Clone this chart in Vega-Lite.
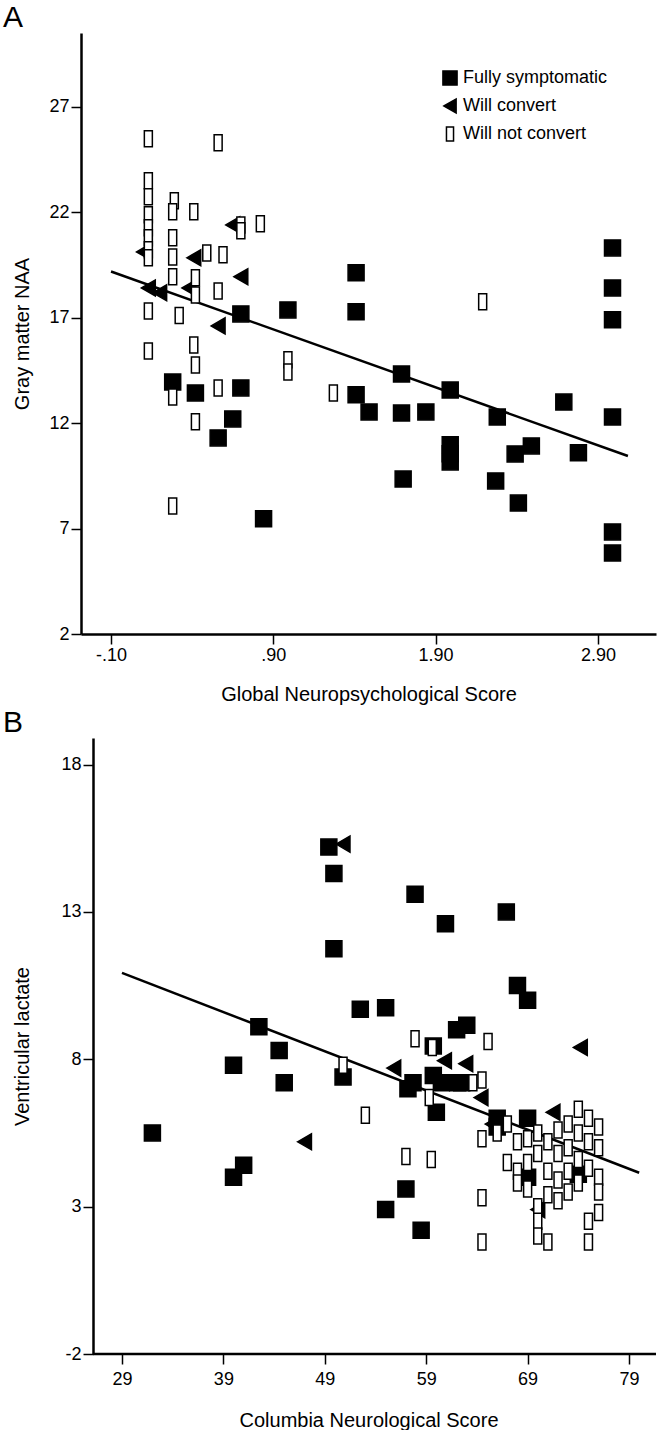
{
  "$schema": "https://vega.github.io/schema/vega-lite/v6.json",
  "padding": {"left": 2, "top": 3, "right": 0, "bottom": 0},
  "spacing": 4,
  "config": {
    "view": {"stroke": null},
    "font": "Liberation Sans",
    "axis": {
      "grid": false, "domainColor": "black", "domainWidth": 2.5, "tickColor": "black", "tickWidth": 1.5, "tickSize": 10,
      "labelColor": "black", "labelFont": "Liberation Sans", "labelFontSize": 18, "titleFont": "Liberation Sans",
      "titleFontSize": 20, "titleFontWeight": "normal", "titleColor": "black"
    },
    "title": {"font": "Liberation Sans", "fontSize": 30, "fontWeight": "normal", "color": "black", "anchor": "start", "frame": "bounds"}
  },
  "datasets": {
    "pa": [
      {"x": 0.28, "y": 13.95, "group": "Fully symptomatic"},
      {"x": 0.42, "y": 13.43, "group": "Fully symptomatic"},
      {"x": 0.70, "y": 13.67, "group": "Fully symptomatic"},
      {"x": 0.65, "y": 12.2, "group": "Fully symptomatic"},
      {"x": 0.56, "y": 11.3, "group": "Fully symptomatic"},
      {"x": 0.84, "y": 7.46, "group": "Fully symptomatic"},
      {"x": 0.70, "y": 17.18, "group": "Fully symptomatic"},
      {"x": 0.99, "y": 17.37, "group": "Fully symptomatic"},
      {"x": 2.99, "y": 20.31, "group": "Fully symptomatic"},
      {"x": 2.99, "y": 18.41, "group": "Fully symptomatic"},
      {"x": 2.99, "y": 16.9, "group": "Fully symptomatic"},
      {"x": 1.41, "y": 19.13, "group": "Fully symptomatic"},
      {"x": 1.41, "y": 17.28, "group": "Fully symptomatic"},
      {"x": 1.69, "y": 14.33, "group": "Fully symptomatic"},
      {"x": 1.99, "y": 13.57, "group": "Fully symptomatic"},
      {"x": 1.41, "y": 13.34, "group": "Fully symptomatic"},
      {"x": 1.49, "y": 12.53, "group": "Fully symptomatic"},
      {"x": 1.69, "y": 12.48, "group": "Fully symptomatic"},
      {"x": 1.84, "y": 12.53, "group": "Fully symptomatic"},
      {"x": 2.28, "y": 12.29, "group": "Fully symptomatic"},
      {"x": 2.69, "y": 13.0, "group": "Fully symptomatic"},
      {"x": 2.99, "y": 12.29, "group": "Fully symptomatic"},
      {"x": 1.99, "y": 10.97, "group": "Fully symptomatic"},
      {"x": 1.99, "y": 10.55, "group": "Fully symptomatic"},
      {"x": 1.99, "y": 10.16, "group": "Fully symptomatic"},
      {"x": 2.49, "y": 10.92, "group": "Fully symptomatic"},
      {"x": 2.39, "y": 10.54, "group": "Fully symptomatic"},
      {"x": 2.78, "y": 10.59, "group": "Fully symptomatic"},
      {"x": 1.70, "y": 9.35, "group": "Fully symptomatic"},
      {"x": 2.27, "y": 9.26, "group": "Fully symptomatic"},
      {"x": 2.41, "y": 8.21, "group": "Fully symptomatic"},
      {"x": 2.99, "y": 6.84, "group": "Fully symptomatic"},
      {"x": 2.99, "y": 5.84, "group": "Fully symptomatic"},
      {"x": 0.65, "y": 21.4, "group": "Will convert"},
      {"x": 0.41, "y": 19.84, "group": "Will convert"},
      {"x": 0.13, "y": 18.41, "group": "Will convert"},
      {"x": 0.20, "y": 18.18, "group": "Will convert"},
      {"x": 0.70, "y": 18.94, "group": "Will convert"},
      {"x": 0.56, "y": 16.61, "group": "Will convert"},
      {"x": 0.10, "y": 20.12, "group": "Will convert"},
      {"x": 0.38, "y": 18.41, "group": "Will convert"},
      {"x": 0.13, "y": 25.48, "group": "Will not convert"},
      {"x": 0.56, "y": 25.29, "group": "Will not convert"},
      {"x": 0.13, "y": 23.49, "group": "Will not convert"},
      {"x": 0.13, "y": 22.73, "group": "Will not convert"},
      {"x": 0.29, "y": 22.54, "group": "Will not convert"},
      {"x": 0.13, "y": 21.88, "group": "Will not convert"},
      {"x": 0.28, "y": 22.02, "group": "Will not convert"},
      {"x": 0.41, "y": 22.02, "group": "Will not convert"},
      {"x": 0.13, "y": 21.26, "group": "Will not convert"},
      {"x": 0.13, "y": 20.79, "group": "Will not convert"},
      {"x": 0.13, "y": 20.22, "group": "Will not convert"},
      {"x": 0.13, "y": 19.84, "group": "Will not convert"},
      {"x": 0.70, "y": 21.4, "group": "Will not convert"},
      {"x": 0.70, "y": 21.12, "group": "Will not convert"},
      {"x": 0.82, "y": 21.45, "group": "Will not convert"},
      {"x": 0.28, "y": 20.79, "group": "Will not convert"},
      {"x": 0.49, "y": 20.07, "group": "Will not convert"},
      {"x": 0.59, "y": 19.98, "group": "Will not convert"},
      {"x": 0.28, "y": 19.88, "group": "Will not convert"},
      {"x": 0.28, "y": 18.94, "group": "Will not convert"},
      {"x": 0.42, "y": 18.89, "group": "Will not convert"},
      {"x": 0.42, "y": 18.08, "group": "Will not convert"},
      {"x": 0.56, "y": 18.27, "group": "Will not convert"},
      {"x": 0.13, "y": 17.32, "group": "Will not convert"},
      {"x": 0.32, "y": 17.1, "group": "Will not convert"},
      {"x": 0.13, "y": 15.42, "group": "Will not convert"},
      {"x": 0.41, "y": 15.71, "group": "Will not convert"},
      {"x": 0.42, "y": 14.76, "group": "Will not convert"},
      {"x": 0.28, "y": 13.24, "group": "Will not convert"},
      {"x": 0.56, "y": 13.67, "group": "Will not convert"},
      {"x": 0.42, "y": 12.06, "group": "Will not convert"},
      {"x": 0.28, "y": 8.07, "group": "Will not convert"},
      {"x": 0.99, "y": 15.0, "group": "Will not convert"},
      {"x": 0.99, "y": 14.43, "group": "Will not convert"},
      {"x": 1.27, "y": 13.43, "group": "Will not convert"},
      {"x": 2.19, "y": 17.75, "group": "Will not convert"}
    ],
    "la": [{"x": -0.1, "y": 19.19}, {"x": 3.085, "y": 10.44}],
    "pb": [
      {"x": 32.0, "y": 5.5, "group": "Fully symptomatic"},
      {"x": 40.0, "y": 4.0, "group": "Fully symptomatic"},
      {"x": 41.0, "y": 4.4, "group": "Fully symptomatic"},
      {"x": 40.0, "y": 7.8, "group": "Fully symptomatic"},
      {"x": 42.5, "y": 9.1, "group": "Fully symptomatic"},
      {"x": 44.5, "y": 8.3, "group": "Fully symptomatic"},
      {"x": 45.0, "y": 7.2, "group": "Fully symptomatic"},
      {"x": 49.4, "y": 15.2, "group": "Fully symptomatic"},
      {"x": 49.9, "y": 14.3, "group": "Fully symptomatic"},
      {"x": 49.9, "y": 11.75, "group": "Fully symptomatic"},
      {"x": 50.8, "y": 7.4, "group": "Fully symptomatic"},
      {"x": 52.5, "y": 9.7, "group": "Fully symptomatic"},
      {"x": 55.0, "y": 9.75, "group": "Fully symptomatic"},
      {"x": 55.0, "y": 2.9, "group": "Fully symptomatic"},
      {"x": 57.0, "y": 3.6, "group": "Fully symptomatic"},
      {"x": 58.5, "y": 2.2, "group": "Fully symptomatic"},
      {"x": 57.9, "y": 13.6, "group": "Fully symptomatic"},
      {"x": 60.9, "y": 12.6, "group": "Fully symptomatic"},
      {"x": 66.9, "y": 13.0, "group": "Fully symptomatic"},
      {"x": 68.0, "y": 10.5, "group": "Fully symptomatic"},
      {"x": 69.0, "y": 10.0, "group": "Fully symptomatic"},
      {"x": 57.7, "y": 7.2, "group": "Fully symptomatic"},
      {"x": 57.2, "y": 7.0, "group": "Fully symptomatic"},
      {"x": 59.7, "y": 7.45, "group": "Fully symptomatic"},
      {"x": 60.5, "y": 7.2, "group": "Fully symptomatic"},
      {"x": 62.5, "y": 7.2, "group": "Fully symptomatic"},
      {"x": 59.7, "y": 8.45, "group": "Fully symptomatic"},
      {"x": 62.0, "y": 9.0, "group": "Fully symptomatic"},
      {"x": 63.0, "y": 9.15, "group": "Fully symptomatic"},
      {"x": 62.1, "y": 7.2, "group": "Fully symptomatic"},
      {"x": 60.0, "y": 6.2, "group": "Fully symptomatic"},
      {"x": 66.0, "y": 6.0, "group": "Fully symptomatic"},
      {"x": 69.0, "y": 6.0, "group": "Fully symptomatic"},
      {"x": 69.0, "y": 4.0, "group": "Fully symptomatic"},
      {"x": 74.0, "y": 4.1, "group": "Fully symptomatic"},
      {"x": 66.0, "y": 5.7, "group": "Fully symptomatic"},
      {"x": 50.8, "y": 15.3, "group": "Will convert"},
      {"x": 47.0, "y": 5.2, "group": "Will convert"},
      {"x": 55.8, "y": 7.7, "group": "Will convert"},
      {"x": 60.8, "y": 7.95, "group": "Will convert"},
      {"x": 62.9, "y": 7.85, "group": "Will convert"},
      {"x": 64.4, "y": 6.7, "group": "Will convert"},
      {"x": 65.5, "y": 5.8, "group": "Will convert"},
      {"x": 74.2, "y": 8.4, "group": "Will convert"},
      {"x": 71.5, "y": 6.2, "group": "Will convert"},
      {"x": 70.0, "y": 2.9, "group": "Will convert"},
      {"x": 68.5, "y": 4.1, "group": "Will convert"},
      {"x": 50.8, "y": 7.8, "group": "Will not convert"},
      {"x": 53.0, "y": 6.1, "group": "Will not convert"},
      {"x": 57.0, "y": 4.7, "group": "Will not convert"},
      {"x": 59.5, "y": 4.6, "group": "Will not convert"},
      {"x": 57.9, "y": 8.7, "group": "Will not convert"},
      {"x": 59.6, "y": 8.4, "group": "Will not convert"},
      {"x": 65.1, "y": 8.6, "group": "Will not convert"},
      {"x": 59.3, "y": 6.7, "group": "Will not convert"},
      {"x": 63.6, "y": 7.2, "group": "Will not convert"},
      {"x": 64.5, "y": 7.3, "group": "Will not convert"},
      {"x": 64.5, "y": 5.3, "group": "Will not convert"},
      {"x": 64.5, "y": 3.3, "group": "Will not convert"},
      {"x": 64.5, "y": 1.8, "group": "Will not convert"},
      {"x": 66.0, "y": 5.5, "group": "Will not convert"},
      {"x": 67.0, "y": 5.8, "group": "Will not convert"},
      {"x": 67.0, "y": 4.5, "group": "Will not convert"},
      {"x": 68.0, "y": 4.2, "group": "Will not convert"},
      {"x": 68.0, "y": 5.2, "group": "Will not convert"},
      {"x": 68.0, "y": 3.8, "group": "Will not convert"},
      {"x": 69.0, "y": 5.3, "group": "Will not convert"},
      {"x": 69.0, "y": 4.5, "group": "Will not convert"},
      {"x": 69.0, "y": 3.6, "group": "Will not convert"},
      {"x": 70.0, "y": 5.5, "group": "Will not convert"},
      {"x": 70.0, "y": 4.8, "group": "Will not convert"},
      {"x": 70.0, "y": 3.0, "group": "Will not convert"},
      {"x": 70.0, "y": 2.5, "group": "Will not convert"},
      {"x": 70.0, "y": 2.0, "group": "Will not convert"},
      {"x": 71.0, "y": 5.2, "group": "Will not convert"},
      {"x": 71.0, "y": 4.2, "group": "Will not convert"},
      {"x": 71.0, "y": 3.4, "group": "Will not convert"},
      {"x": 71.0, "y": 1.8, "group": "Will not convert"},
      {"x": 72.0, "y": 5.6, "group": "Will not convert"},
      {"x": 72.0, "y": 4.8, "group": "Will not convert"},
      {"x": 72.0, "y": 3.9, "group": "Will not convert"},
      {"x": 72.0, "y": 3.2, "group": "Will not convert"},
      {"x": 73.0, "y": 5.8, "group": "Will not convert"},
      {"x": 73.0, "y": 5.0, "group": "Will not convert"},
      {"x": 73.0, "y": 4.2, "group": "Will not convert"},
      {"x": 73.0, "y": 3.5, "group": "Will not convert"},
      {"x": 74.0, "y": 6.3, "group": "Will not convert"},
      {"x": 74.0, "y": 5.5, "group": "Will not convert"},
      {"x": 74.0, "y": 4.6, "group": "Will not convert"},
      {"x": 74.0, "y": 3.8, "group": "Will not convert"},
      {"x": 75.0, "y": 6.0, "group": "Will not convert"},
      {"x": 75.0, "y": 5.2, "group": "Will not convert"},
      {"x": 75.0, "y": 4.3, "group": "Will not convert"},
      {"x": 75.0, "y": 2.5, "group": "Will not convert"},
      {"x": 75.0, "y": 1.8, "group": "Will not convert"},
      {"x": 76.0, "y": 5.7, "group": "Will not convert"},
      {"x": 76.0, "y": 5.0, "group": "Will not convert"},
      {"x": 76.0, "y": 4.0, "group": "Will not convert"},
      {"x": 76.0, "y": 3.5, "group": "Will not convert"},
      {"x": 76.0, "y": 2.8, "group": "Will not convert"}
    ],
    "lb": [{"x": 29, "y": 10.93}, {"x": 80, "y": 4.15}],
    "axb": [{"x": 26.14, "x2": 81.66, "y": -2}]
  },
  "vconcat": [
    {
      "title": {"text": "A", "dx": -10, "offset": 0},
      "width": 575,
      "height": 601,
      "layer": [
        {
          "data": {"name": "la"},
          "mark": {"type": "line", "color": "black", "strokeWidth": 2.5},
          "encoding": {
            "x": {"field": "x", "type": "quantitative"},
            "y": {"field": "y", "type": "quantitative"}
          }
        },
        {
          "data": {"name": "pa"},
          "mark": {"type": "point", "filled": true, "strokeWidth": 1.5, "opacity": 1, "size": 256},
          "encoding": {
            "x": {"field": "x", "type": "quantitative", "title": "Global Neuropsychological Score",
              "scale": {"domain": [-0.285, 3.258], "nice": false, "zero": false},
              "axis": {"values": [-0.1, 0.9, 1.9, 2.9], "labelExpr": "datum.value < 0 ? '-.10' : replace(format(datum.value, '.2f'), '0.', '.')", "labelPadding": 2, "titlePadding": 20}},
            "y": {"field": "y", "type": "quantitative", "title": "Gray matter NAA",
              "scale": {"domain": [2, 30.5], "nice": false, "zero": false},
              "axis": {"values": [2, 7, 12, 17, 22, 27], "labelPadding": 2, "titlePadding": 16}},
            "shape": {"field": "group", "type": "nominal", "title": null,
              "scale": {"domain": ["Fully symptomatic", "Will convert", "Will not convert"], "range": ["square", "triangle-left", "M-0.5,-1H0.5V1H-0.5Z"]},
              "legend": {"orient": "none", "legendX": 360, "legendY": 36, "labelFontSize": 18, "labelFont": "Liberation Sans", "labelColor": "black", "symbolSize": 200, "symbolStrokeWidth": 1.5, "rowPadding": 6, "padding": 0, "labelOffset": 4}},
            "fill": {"field": "group", "type": "nominal", "title": null,
              "scale": {"domain": ["Fully symptomatic", "Will convert", "Will not convert"], "range": ["black", "black", "white"]}},
            "stroke": {"field": "group", "type": "nominal", "title": null,
              "scale": {"domain": ["Fully symptomatic", "Will convert", "Will not convert"], "range": ["black", "black", "black"]}}
          }
        }
      ]
    },
    {
      "title": {"text": "B", "dx": -10, "offset": 0},
      "width": 575,
      "height": 616,
      "layer": [
        {
          "data": {"name": "axb"},
          "mark": {"type": "rule", "color": "black", "strokeWidth": 2.5},
          "encoding": {
            "x": {"field": "x", "type": "quantitative"},
            "x2": {"field": "x2"},
            "y": {"field": "y", "type": "quantitative"}
          }
        },
        {
          "data": {"name": "lb"},
          "mark": {"type": "line", "color": "black", "strokeWidth": 2.5},
          "encoding": {
            "x": {"field": "x", "type": "quantitative"},
            "y": {"field": "y", "type": "quantitative"}
          }
        },
        {
          "data": {"name": "pb"},
          "mark": {"type": "point", "filled": true, "strokeWidth": 1.5, "opacity": 1, "size": 256},
          "encoding": {
            "x": {"field": "x", "type": "quantitative", "title": "Columbia Neurological Score",
              "scale": {"domain": [24.96, 81.66], "nice": false, "zero": false},
              "axis": {"values": [29, 39, 49, 59, 69, 79], "domain": false, "labelPadding": 6, "titlePadding": 22}},
            "y": {"field": "y", "type": "quantitative", "title": "Ventricular lactate",
              "scale": {"domain": [-2, 18.9], "nice": false, "zero": false},
              "axis": {"values": [-2, 3, 8, 13, 18], "offset": -12, "labelExpr": "replace(datum.label, '\u2212', '-')", "labelPadding": 2, "titlePadding": 28}},
            "shape": {"field": "group", "type": "nominal", "legend": null,
              "scale": {"domain": ["Fully symptomatic", "Will convert", "Will not convert"], "range": ["square", "triangle-left", "M-0.5,-1H0.5V1H-0.5Z"]}},
            "fill": {"field": "group", "type": "nominal", "legend": null,
              "scale": {"domain": ["Fully symptomatic", "Will convert", "Will not convert"], "range": ["black", "black", "white"]}},
            "stroke": {"field": "group", "type": "nominal", "legend": null,
              "scale": {"domain": ["Fully symptomatic", "Will convert", "Will not convert"], "range": ["black", "black", "black"]}}
          }
        }
      ]
    }
  ]
}
